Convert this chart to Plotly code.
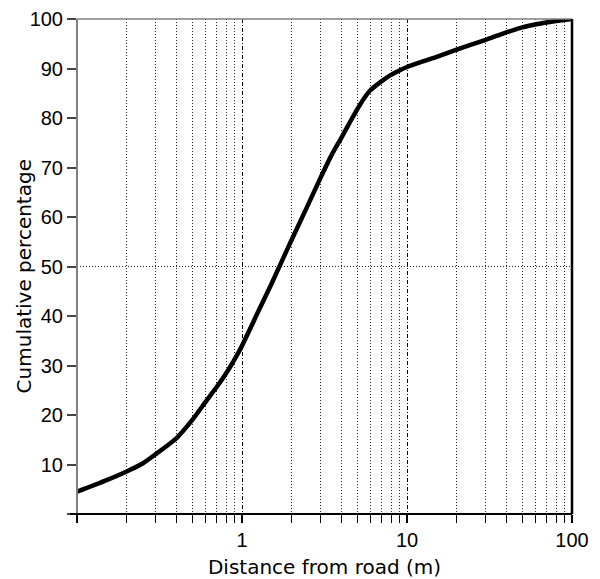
import plotly.graph_objects as go

# Cumulative distribution of distance from road
distance_m = [0.1, 0.15, 0.2, 0.25, 0.3, 0.4, 0.5, 0.6, 0.7, 0.8, 0.9, 1.0,
              1.25, 1.5, 1.75, 2.0, 2.5, 3.0, 3.5, 4.0, 4.5, 5.0, 5.5, 6.0,
              7.0, 8.0, 9.0, 10.0, 15.0, 20.0, 30.0, 40.0, 50.0, 60.0, 70.0,
              80.0, 100.0]
cumulative_pct = [4.5, 6.8, 8.6, 10.2, 12.1, 15.3, 19.0, 22.6, 25.6, 28.4, 31.2, 34.0,
                  40.8, 46.3, 51.2, 55.4, 62.3, 68.0, 72.6, 76.0, 79.1, 81.8, 84.0, 85.6,
                  87.4, 88.7, 89.6, 90.3, 92.3, 93.8, 95.8, 97.3, 98.3, 98.9, 99.3,
                  99.6, 100.0]

major_x = [0.1, 1, 10, 100]
major_x_text = ["", "1", "10", "100"]
minor_x = [m * d for d in (0.1, 1, 10) for m in range(2, 10)]
y_ticks = list(range(0, 101, 10))
y_tick_text = [""] + [str(v) for v in y_ticks[1:]]

TICK_FONT = dict(family="Liberation Sans, Arial, sans-serif", size=20, color="black")
TITLE_FONT = dict(family="DejaVu Sans, sans-serif", size=20, color="black")

W, H = 600, 579
L, R, T, B = 77, 28, 19, 65
plot_w = W - L - R

fig = go.Figure()
fig.add_trace(go.Scatter(
    x=distance_m, y=cumulative_pct, mode="lines",
    line=dict(color="black", width=4.5, shape="spline", smoothing=0.5),
    showlegend=False, hoverinfo="skip",
))

fig.update_layout(
    width=W, height=H,
    margin=dict(l=L, r=R, t=T, b=B, autoexpand=False),
    paper_bgcolor="white", plot_bgcolor="white",
    xaxis=dict(
        type="log", range=[-1, 2], automargin=False,
        tickmode="array", tickvals=major_x, ticktext=major_x_text,
        ticks="outside", ticklen=8, tickwidth=1.5, tickcolor="black",
        showgrid=True, gridcolor="black", gridwidth=1, griddash="4px,2px,1px,2px",
        minor=dict(tickmode="array", tickvals=minor_x, ticks="outside",
                   ticklen=8, tickwidth=1, tickcolor="black",
                   showgrid=True, gridcolor="#222222", gridwidth=1, griddash="1px,2px"),
        showline=False, zeroline=False,
        tickfont=TICK_FONT,
        title=dict(text="Distance from road (m)", font=TITLE_FONT, standoff=10),
    ),
    yaxis=dict(
        range=[0, 100], automargin=False,
        tickmode="array", tickvals=y_ticks, ticktext=y_tick_text,
        ticks="outside", ticklen=9, tickwidth=1.5, tickcolor="#444444",
        showgrid=False, zeroline=False, showline=False,
        minor=dict(tickmode="array", tickvals=[50], ticks="",
                   showgrid=True, gridcolor="#222222", gridwidth=1, griddash="1px,2px"),
        tickfont=TICK_FONT,
    ),
    annotations=[dict(
        text="Cumulative percentage", textangle=-90, showarrow=False,
        xref="paper", yref="paper", x=(24 - L) / plot_w, y=0.48,
        xanchor="center", yanchor="middle", font=TITLE_FONT,
    )],
)

# Frame: grey left and top edges, black bottom and right edges
frame = [
    dict(x0=0, x1=0, y0=0, y1=1, color="#808080", width=2),
    dict(x0=0, x1=1, y0=1, y1=1, color="#808080", width=1.5),
    dict(x0=-0.014, x1=1, y0=0, y1=0, color="black", width=2),
    dict(x0=1, x1=1, y0=0, y1=1, color="black", width=2.5),
]
for f in frame:
    fig.add_shape(type="line", xref="paper", yref="paper",
                  x0=f["x0"], x1=f["x1"], y0=f["y0"], y1=f["y1"],
                  line=dict(color=f["color"], width=f["width"]), layer="above")

fig.write_html("out.html")
